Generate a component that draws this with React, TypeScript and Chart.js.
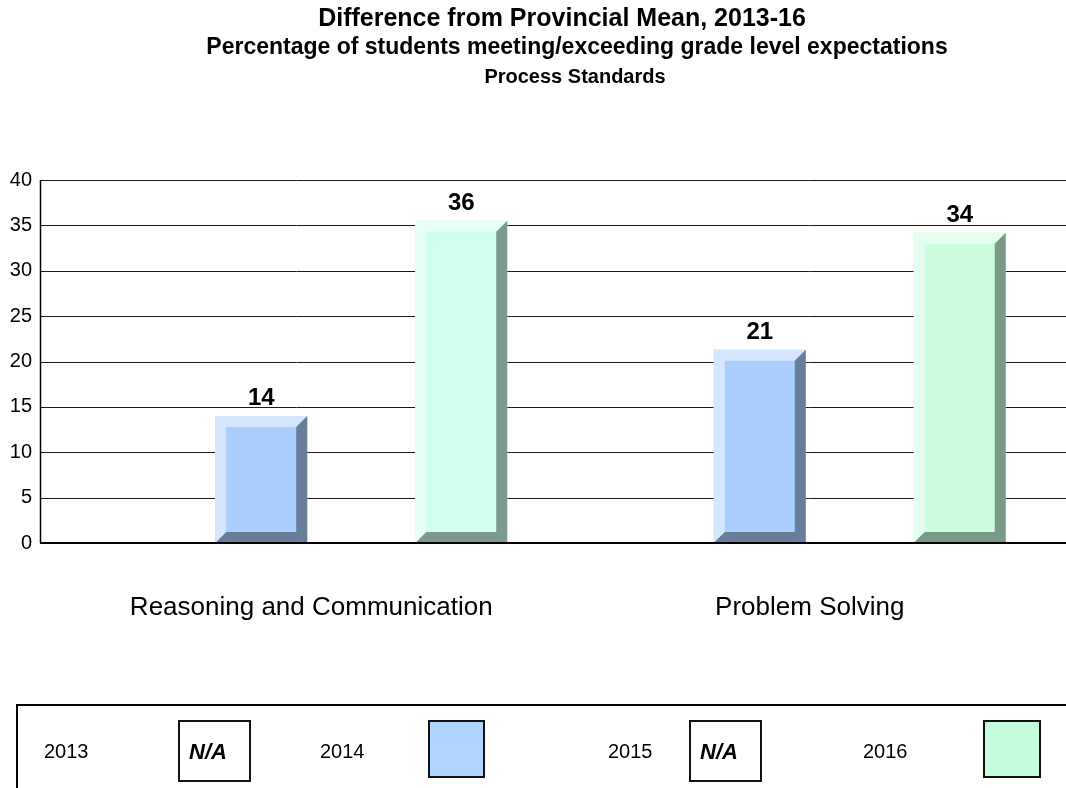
import React, { useEffect, useRef } from "react";
import { Chart, registerables } from "chart.js";

Chart.register(...registerables);

const FONT = '"Liberation Sans", Arial, Helvetica, sans-serif';

const categories = ["Reasoning and Communication", "Problem Solving"];
const years = ["2013", "2014", "2015", "2016"];
const values2013: (number | null)[] = [null, null];
const values2014: (number | null)[] = [14, 21.3];
const values2015: (number | null)[] = [null, null];
const values2016: (number | null)[] = [35.5, 34.2];
const yTickValues = [0, 5, 10, 15, 20, 25, 30, 35, 40];
const titleLines = [
  "Difference from Provincial Mean, 2013-16",
  "Percentage of students meeting/exceeding grade level expectations",
  "Process Standards",
];
const legendNotAvailable = [true, false, true, false];

const innerColors = [["#FFFFFF", "#FFFFFF"], ["#AACFFF", "#AACFFF"], ["#FFFFFF", "#FFFFFF"], ["#CFFFF1", "#CBFDDF"]];
const lightColors = [["#FFFFFF", "#FFFFFF"], ["#D5E7FF", "#D5E7FF"], ["#FFFFFF", "#FFFFFF"], ["#E7FFF9", "#E4FFEF"]];
const darkColors = [["#000000", "#000000"], ["#687D9A", "#687D9A"], ["#000000", "#000000"], ["#7B9991", "#7A9A88"]];
const legendSwatch = ["#FFFFFF", "#AED4FF", "#FFFFFF", "#C6FDDC"];

const BEVEL = 11;

const decorPlugin = {
  id: "decor",
  beforeDatasetsDraw(chart: any) {
    const ctx = chart.ctx;
    const y = chart.scales.y;
    const W = chart.width;
    const axisX = 40;
    ctx.save();
    ctx.strokeStyle = "#1a1a1a";
    ctx.lineWidth = 1;
    yTickValues.forEach((v) => {
      if (v === 0) return;
      const py = Math.round(y.getPixelForValue(v)) + 0.5;
      ctx.beginPath();
      ctx.moveTo(axisX, py);
      ctx.lineTo(W, py);
      ctx.stroke();
    });
    ctx.restore();
  },
  afterDatasetsDraw(chart: any) {
    const ctx = chart.ctx;
    const y = chart.scales.y;
    const W = chart.width;
    const axisX = 40;
    ctx.save();
    chart.data.datasets.forEach((ds: any, di: number) => {
      const meta = chart.getDatasetMeta(di);
      meta.data.forEach((bar: any, i: number) => {
        const v = ds.data[i];
        if (v === null || v === undefined) return;
        const { x, y: top, base, width } = bar.getProps(["x", "y", "base", "width"], true);
        const l = x - width / 2;
        const r = x + width / 2;
        const b = BEVEL;
        ctx.fillStyle = lightColors[di][i];
        ctx.beginPath();
        ctx.moveTo(l, top);
        ctx.lineTo(r, top);
        ctx.lineTo(r - b, top + b);
        ctx.lineTo(l + b, top + b);
        ctx.lineTo(l + b, base - b);
        ctx.lineTo(l, base);
        ctx.closePath();
        ctx.fill();
        ctx.fillStyle = darkColors[di][i];
        ctx.beginPath();
        ctx.moveTo(r, top);
        ctx.lineTo(r, base);
        ctx.lineTo(l, base);
        ctx.lineTo(l + b, base - b);
        ctx.lineTo(r - b, base - b);
        ctx.lineTo(r - b, top + b);
        ctx.closePath();
        ctx.fill();
        ctx.fillStyle = "#000";
        ctx.font = `bold 24px ${FONT}`;
        ctx.textAlign = "center";
        ctx.textBaseline = "alphabetic";
        ctx.fillText(String(Math.round(v)), x, top - 11);
      });
    });
    const top = y.getPixelForValue(40);
    const bottom = y.getPixelForValue(0);
    ctx.strokeStyle = "#000";
    ctx.lineWidth = 1.5;
    ctx.beginPath();
    ctx.moveTo(axisX + 0.5, Math.round(top));
    ctx.lineTo(axisX + 0.5, Math.round(bottom));
    ctx.stroke();
    ctx.lineWidth = 2;
    ctx.beginPath();
    ctx.moveTo(axisX, Math.round(bottom));
    ctx.lineTo(W, Math.round(bottom));
    ctx.stroke();
    ctx.restore();
  },
  afterDraw(chart: any) {
    const ctx = chart.ctx;
    ctx.save();
    ctx.fillStyle = "#000";
    ctx.textAlign = "center";
    ctx.textBaseline = "alphabetic";
    ctx.font = `bold 25px ${FONT}`;
    ctx.fillText(titleLines[0], 562, 26);
    ctx.font = `bold 23px ${FONT}`;
    ctx.fillText(titleLines[1], 577, 54);
    ctx.font = `bold 20px ${FONT}`;
    ctx.fillText(titleLines[2], 575, 83);

    ctx.strokeStyle = "#000";
    ctx.lineWidth = 2;
    ctx.beginPath();
    ctx.moveTo(17, 800);
    ctx.lineTo(17, 705);
    ctx.lineTo(1070, 705);
    ctx.stroke();

    const labelX = [44, 320, 608, 863];
    const boxX = [179, 429, 690, 984];
    const boxW = [71, 55, 71, 56];
    years.forEach((yr, i) => {
      ctx.fillStyle = "#000";
      ctx.font = `20px ${FONT}`;
      ctx.textAlign = "left";
      ctx.textBaseline = "middle";
      ctx.fillText(yr, labelX[i], 752);
      const bx = boxX[i];
      const na = legendNotAvailable[i];
      const by = 721;
      const bh = na ? 60 : 56;
      ctx.fillStyle = legendSwatch[i];
      ctx.fillRect(bx, by, boxW[i], bh);
      ctx.strokeStyle = "#111";
      ctx.lineWidth = 2;
      ctx.strokeRect(bx, by, boxW[i], bh);
      if (na) {
        ctx.fillStyle = "#000";
        ctx.font = `italic bold 22px ${FONT}`;
        ctx.textAlign = "left";
        ctx.fillText("N/A", bx + 10, 753);
      }
    });
    ctx.restore();
  },
};

export default function App() {
  const canvasRef = useRef<HTMLCanvasElement | null>(null);

  useEffect(() => {
    if (!canvasRef.current) return;
    const catWidth = (1059 - 62) / 2;
    const chart = new Chart(canvasRef.current, {
      type: "bar",
      data: {
        labels: categories,
        datasets: [
          { label: years[0], data: values2013, backgroundColor: innerColors[0] },
          { label: years[1], data: values2014, backgroundColor: innerColors[1] },
          { label: years[2], data: values2015, backgroundColor: innerColors[2] },
          { label: years[3], data: values2016, backgroundColor: innerColors[3] },
        ],
      },
      options: {
        animation: false,
        responsive: true,
        maintainAspectRatio: false,
        layout: { padding: { top: 180, right: 7, left: 0, bottom: 0 } },
        datasets: {
          bar: {
            categoryPercentage: 400 / catWidth,
            barPercentage: 0.92,
            borderWidth: 0,
          },
        },
        plugins: {
          legend: { display: false },
          title: { display: false },
          tooltip: { enabled: false },
        },
        scales: {
          x: {
            type: "category",
            grid: { display: false, drawTicks: false },
            border: { display: false },
            ticks: {
              color: "#000",
              font: { family: FONT, size: 26 },
              padding: 49,
              maxRotation: 0,
            },
            afterFit(scale: any) {
              scale.height = 245;
            },
          },
          y: {
            min: 0,
            max: 40,
            grid: { display: false, drawTicks: false },
            border: { display: false },
            ticks: {
              stepSize: 5,
              color: "#000",
              font: { family: FONT, size: 20 },
              padding: 30,
            },
            afterFit(scale: any) {
              scale.width = 62;
            },
          },
        },
      },
      plugins: [decorPlugin],
    });
    return () => chart.destroy();
  }, []);

  return (
    <div style={{ position: "fixed", left: 0, top: 0, width: 1066, height: 788, background: "#fff" }}>
      <canvas ref={canvasRef} />
    </div>
  );
}
